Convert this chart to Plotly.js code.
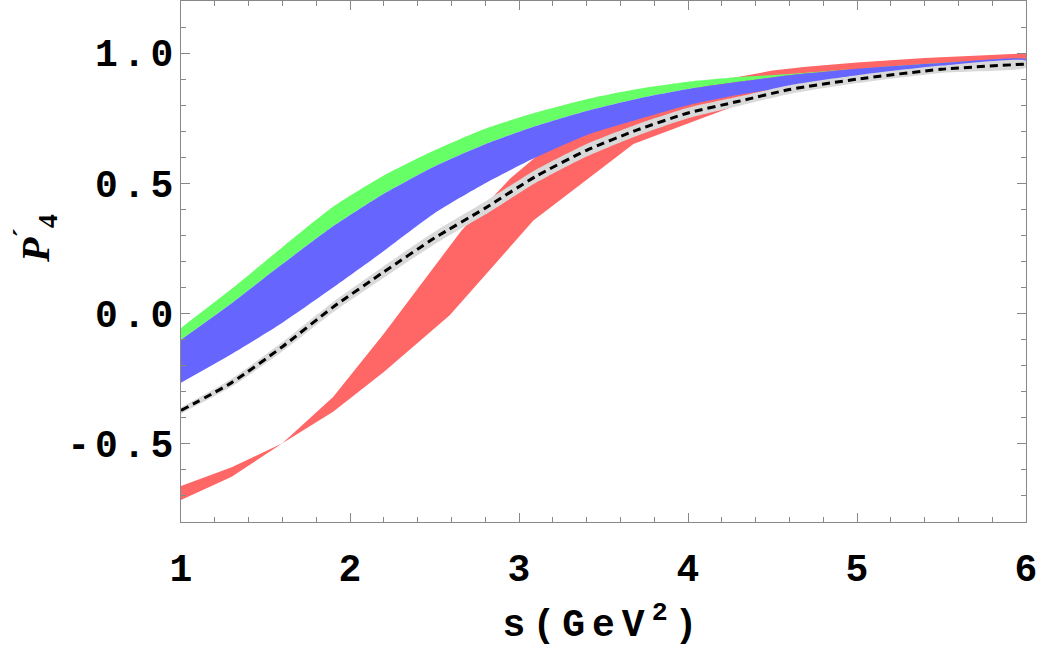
<!DOCTYPE html>
<html>
<head>
<meta charset="utf-8">
<script src="https://cdn.plot.ly/plotly-3.0.1.min.js"></script>
<style>
  html, body { margin: 0; padding: 0; background: #fff; }
  #chart { width: 1042px; height: 648px; }
  #chart .ytick text { letter-spacing: 5px; }
  #chart .xtitle { letter-spacing: 7px; }
</style>
</head>
<body>
<div id="chart"></div>
<script>
// ---- data ----
const sGrid   = [1, 1.3, 1.6, 1.9, 2.2, 2.5, 2.8, 3.1, 3.4, 3.7, 4.0, 4.3, 4.6, 5.0, 5.5, 6.0];

// green band: upper edge (lower edge hidden by the blue band)
const greenHi = [-0.055, 0.095, 0.255, 0.41, 0.53, 0.627, 0.71, 0.772, 0.823, 0.862, 0.89, 0.908, 0.92, 0.94, 0.958, 0.972];
// blue band
const blueHi  = [-0.10, 0.04, 0.19, 0.335, 0.46, 0.565, 0.65, 0.72, 0.778, 0.825, 0.862, 0.89, 0.915, 0.94, 0.962, 0.977];
const blueLo  = [-0.265, -0.155, -0.035, 0.10, 0.24, 0.385, 0.50, 0.60, 0.685, 0.745, 0.80, 0.84, 0.87, 0.905, 0.935, 0.96];
// central (dashed) curve and its grey band
const central = [-0.372, -0.265, -0.127, 0.025, 0.16, 0.29, 0.405, 0.527, 0.627, 0.705, 0.77, 0.815, 0.86, 0.90, 0.938, 0.958];
const greyHi  = [-0.360, -0.250, -0.109, 0.045, 0.182, 0.314, 0.430, 0.552, 0.651, 0.727, 0.790, 0.833, 0.877, 0.915, 0.952, 0.971];
const greyLo  = [-0.384, -0.280, -0.145, 0.005, 0.138, 0.266, 0.380, 0.502, 0.603, 0.683, 0.750, 0.797, 0.843, 0.885, 0.924, 0.945];

// red band (own sampling, its kinks are visible)
const redSHi  = [1, 1.3, 1.6, 1.9, 2.2, 2.66, 2.95, 3.12, 3.5, 4.0, 4.27, 4.5, 4.7, 5.0, 5.4, 6.0];
const redHi   = [-0.662, -0.59, -0.498, -0.32, -0.077, 0.319, 0.52, 0.613, 0.75, 0.86, 0.905, 0.933, 0.948, 0.964, 0.981, 0.999];
const redSLo  = [1, 1.3, 1.6, 1.9, 2.2, 2.59, 3.085, 3.677, 4.07, 4.5, 5.0, 5.5, 6.0];
const redLo   = [-0.716, -0.626, -0.498, -0.377, -0.224, -0.0065, 0.357, 0.651, 0.747, 0.85, 0.91, 0.95, 0.97];

// ticks
const xTickVals = [1, 2, 3, 4, 5, 6];
const xTickText = ["1", "2", "3", "4", "5", "6"];
const yTickVals = [-0.5, 0, 0.5, 1.0];
const yTickText = ["-0.5", "0.0", "0.5", "1.0"];

// ---- helpers ----
function band(xHi, yHi, xLo, yLo, color, shape) {
  return {
    x: xHi.concat(xLo.slice().reverse()),
    y: yHi.concat(yLo.slice().reverse()),
    type: 'scatter', mode: 'lines', fill: 'toself',
    fillcolor: color,
    line: { width: 0, color: color, shape: shape || 'linear', smoothing: 0.6 },
    hoverinfo: 'skip', showlegend: false
  };
}

const traces = [
  band(redSHi, redHi, redSLo, redLo, 'rgb(255,102,102)', 'linear'),
  band(sGrid, greenHi, sGrid, blueHi, 'rgb(102,255,102)', 'spline'),
  band(sGrid, blueHi, sGrid, blueLo, 'rgb(102,102,255)', 'spline'),
  band(sGrid, greyHi, sGrid, greyLo, 'rgb(217,217,217)', 'spline'),
  {
    x: sGrid, y: central, type: 'scatter', mode: 'lines',
    line: { color: '#000', width: 3, dash: '8px,5px', shape: 'spline', smoothing: 0.6 },
    hoverinfo: 'skip', showlegend: false
  }
];

const tickFont = { family: 'Liberation Mono, Courier New, monospace', size: 38, color: '#000', weight: 700 };
const axisCommon = {
  showgrid: false, zeroline: false,
  showline: true, linecolor: '#888', linewidth: 1, mirror: 'ticks',
  ticks: 'inside', ticklen: 9, tickwidth: 1, tickcolor: '#888',
  tickfont: tickFont
};

const layout = {
  width: 1042, height: 648,
  paper_bgcolor: '#fff', plot_bgcolor: '#fff',
  margin: { l: 181, r: 16, t: 1, b: 126 },
  xaxis: Object.assign({}, axisCommon, {
    range: [1, 6], tickmode: 'array', tickvals: xTickVals, ticktext: xTickText,
    ticklabelstandoff: 12,
    minor: { dtick: 0.2, ticks: 'inside', ticklen: 5, tickcolor: '#888', tickwidth: 1 },
    title: { text: 's(GeV<sup>2</sup>)', font: tickFont, standoff: 18 }
  }),
  yaxis: Object.assign({}, axisCommon, {
    range: [-0.8, 1.2], tickmode: 'array', tickvals: yTickVals, ticktext: yTickText,
    ticklabelstandoff: -6,
    minor: { dtick: 0.1, ticks: 'inside', ticklen: 5, tickcolor: '#888', tickwidth: 1 },
    title: { text: '' }
  }),
  annotations: [{
    text: '<i>P</i><sup>\u00b4</sup><sub>4</sub>',
    xref: 'paper', yref: 'paper', x: -0.1728, y: 0.545,
    xanchor: 'center', yanchor: 'middle', textangle: -90, showarrow: false,
    font: { family: 'Liberation Serif, serif', size: 40, color: '#000', weight: 700 }
  }]
};

Plotly.newPlot('chart', traces, layout, { staticPlot: true, displayModeBar: false });
</script>
</body>
</html>
